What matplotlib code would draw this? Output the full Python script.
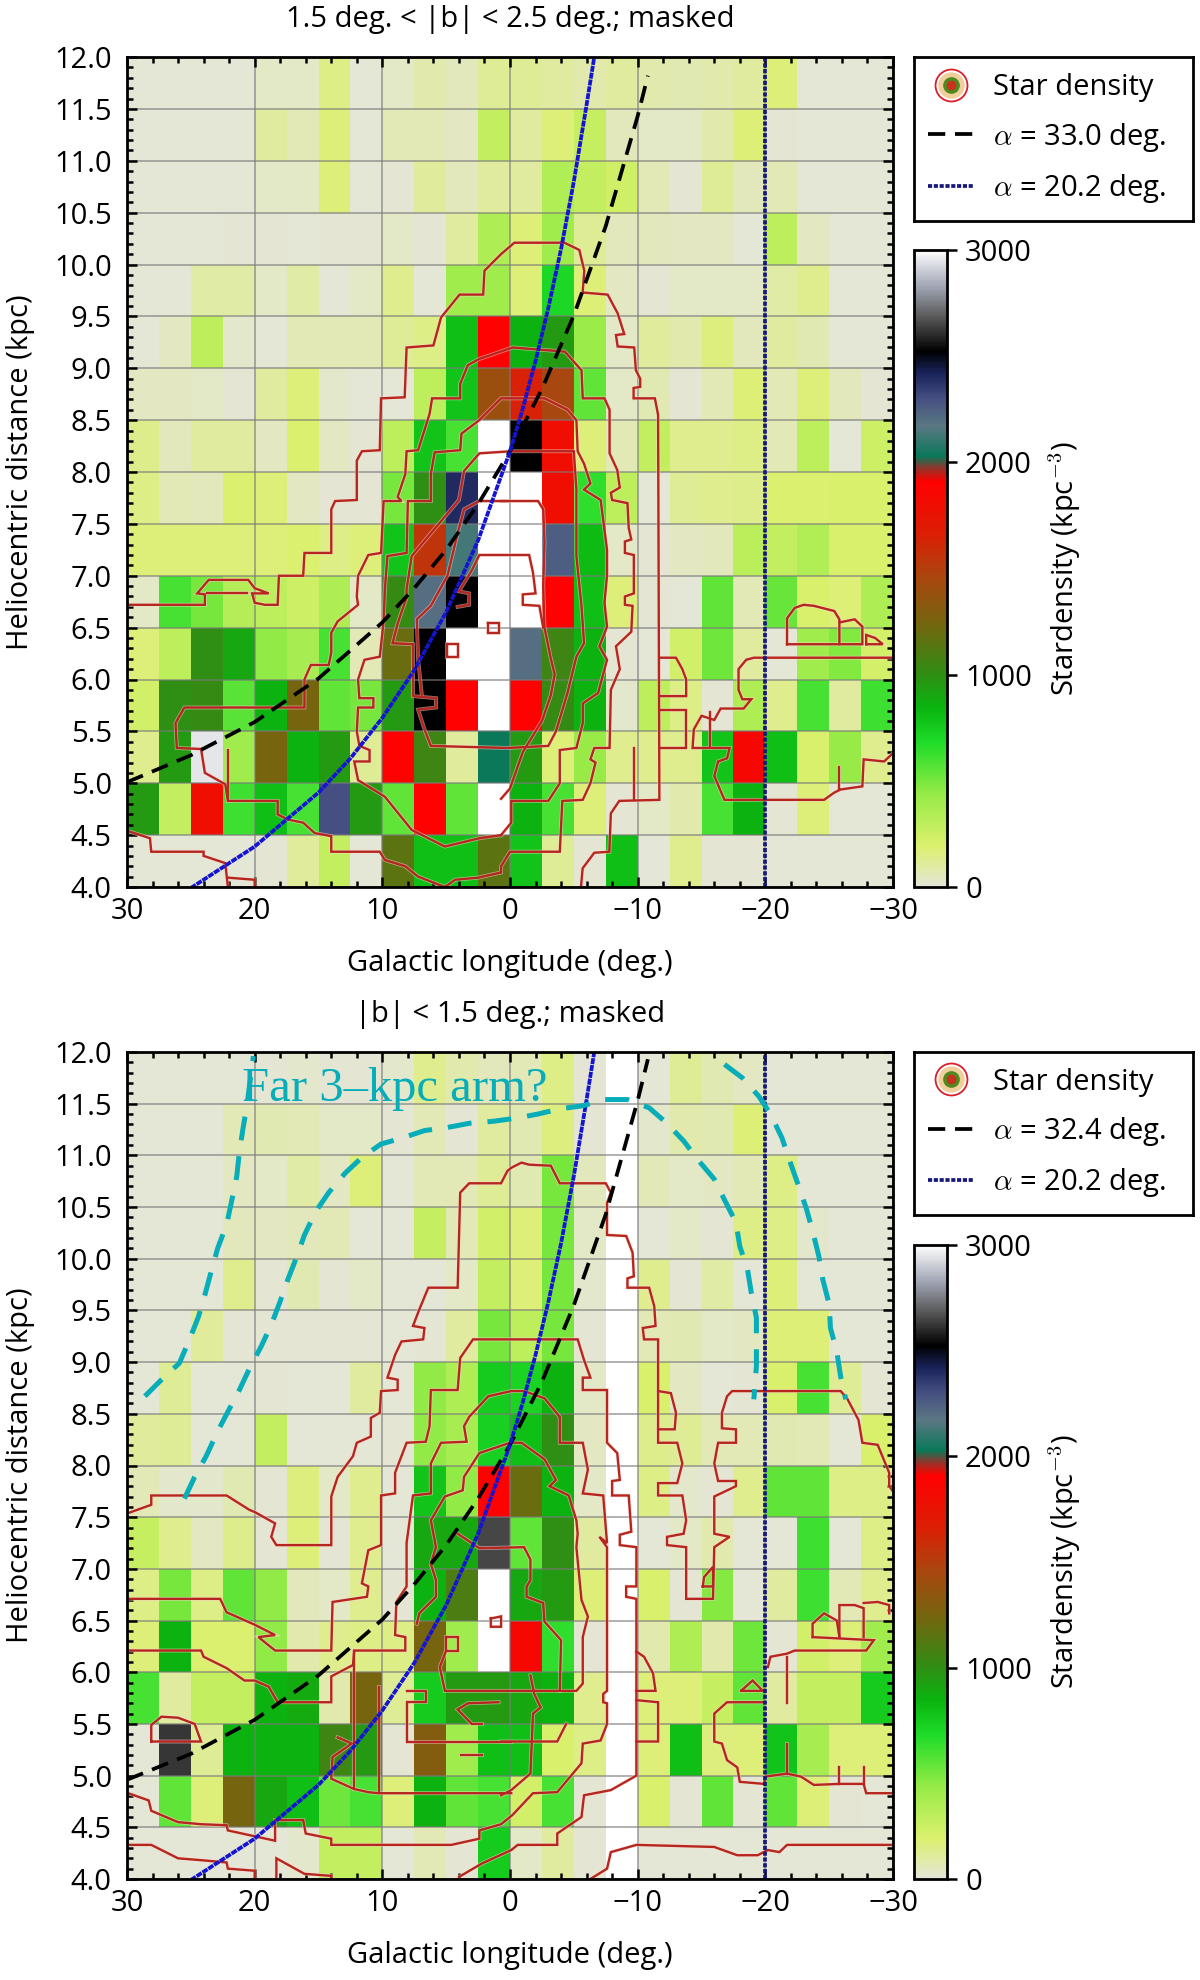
"""
Red clump star density maps towards the Galactic bar, two latitude ranges.
"""
import numpy as np
import matplotlib
matplotlib.use("Agg")
import matplotlib.pyplot as plt
from matplotlib.colors import LinearSegmentedColormap
from matplotlib.legend_handler import HandlerTuple
from matplotlib.lines import Line2D
from matplotlib.ticker import MultipleLocator, FuncFormatter

plt.rcParams["font.family"] = ["Open Sans", "DejaVu Sans"]
plt.rcParams["mathtext.fontset"] = "cm"

W, H = 1200, 1980

# --------- DATA ---------
LON_EDGES = np.arange(30, -30.1, -2.5)
DIST_EDGES = np.arange(4, 12.01, 0.5)

# rows run from 11.5-12 kpc down to 4-4.5 kpc, columns from l=30 to l=-30
P1_DENSITY = [
    [0, 0, 0, 0, 30, 30, 150, 0, 30, 80, 50, 120, 120, 100, 80, 100, 80, 70, 80, 100, 170, 0, 0, 0],
    [0, 0, 0, 0, 100, 60, 170, 0, 60, 60, 40, 280, 100, 170, 270, 50, 30, 30, 80, 180, 10, 0, 0, 0],
    [0, 0, 0, 0, 30, 30, 170, 0, 10, 110, 50, 100, 100, 340, 280, 240, 60, 10, 120, 50, 60, 0, 0, 0],
    [0, 0, 0, 10, 10, 0, 10, 10, 30, 10, 100, 350, 180, 400, 120, 50, 50, 40, 40, 0, 300, 40, 0, 0],
    [0, 0, 90, 90, 30, 90, 0, 30, 130, 0, 400, 400, 180, 700, 180, 40, 10, 30, 30, 30, 90, 130, 0, 0],
    [0, 40, 300, 20, 0, 60, 60, 60, 120, 150, 800, 1900, 850, 950, 420, 30, 110, 80, 160, 50, 100, 70, 0, 0],
    [40, 40, 30, 10, 100, 170, 20, 0, 0, 300, 780, 1400, 1650, 1450, 550, 30, 70, 10, 60, 180, 60, 170, 50, 10],
    [140, 50, 100, 100, 40, 190, 40, 10, 300, 780, 600, 3000, 2520, 1800, 170, 60, 280, 130, 130, 150, 60, 300, 0, 250],
    [150, 60, 50, 190, 170, 40, 10, 10, 500, 1000, 2400, 3000, 3000, 1800, 650, 300, 0, 120, 130, 140, 190, 190, 200, 200],
    [170, 170, 170, 170, 170, 190, 150, 170, 780, 1550, 2130, 3000, 3000, 2250, 820, 30, 10, 40, 50, 310, 280, 340, 200, 200],
    [30, 600, 500, 330, 300, 250, 350, 30, 1020, 2200, 2520, 3000, 3000, 1900, 800, 170, 10, 0, 550, 60, 530, 200, 180, 350],
    [170, 300, 1000, 900, 450, 380, 600, 60, 1200, 2520, 3000, 3000, 2200, 1050, 850, 10, 0, 230, 520, 100, 0, 400, 480, 220],
    [230, 1000, 1020, 560, 850, 1250, 550, 500, 950, 2520, 1900, 3000, 1900, 1020, 850, 20, 300, 150, 10, 350, 130, 600, 100, 620],
    [130, 950, 2950, 400, 1250, 850, 950, 120, 1900, 1050, 110, 2030, 950, 180, 430, 130, 130, 130, 780, 1850, 800, 200, 430, 130],
    [950, 280, 1800, 620, 800, 600, 2300, 950, 550, 1900, 550, 3000, 850, 600, 170, 10, 30, 80, 600, 850, 10, 170, 0, 0],
    [0, 0, 0, 0, 10, 110, 280, 0, 1150, 800, 800, 1150, 780, 120, 10, 800, 0, 130, 10, 10, 0, 0, 0, 0],
]
P2_DENSITY = [
    [0, 0, 0, 0, 10, 20, 10, 10, 20, 130, 80, 50, 60, 150, 10, 3000, 0, 120, 70, 40, 0, 0, 0, 0],
    [0, 0, 0, 60, 70, 60, 30, 30, 10, 60, 10, 100, 70, 160, 10, 3000, 20, 80, 70, 180, 0, 0, 0, 0],
    [0, 0, 0, 40, 30, 90, 40, 170, 0, 60, 60, 120, 70, 500, 50, 3000, 60, 30, 40, 60, 150, 0, 0, 0],
    [0, 0, 0, 50, 40, 50, 60, 0, 0, 270, 60, 230, 170, 500, 30, 3000, 0, 30, 10, 150, 150, 20, 0, 0],
    [0, 0, 0, 130, 10, 70, 10, 30, 0, 0, 30, 280, 170, 500, 20, 3000, 130, 10, 90, 0, 170, 0, 0, 0],
    [0, 0, 110, 10, 10, 10, 10, 10, 0, 10, 100, 500, 300, 500, 10, 3000, 60, 70, 30, 40, 180, 180, 0, 0],
    [0, 120, 0, 0, 10, 0, 0, 100, 0, 450, 350, 750, 720, 850, 30, 3000, 200, 40, 0, 10, 200, 600, 120, 10],
    [110, 120, 0, 0, 280, 0, 0, 0, 10, 450, 380, 730, 800, 1000, 40, 3000, 140, 120, 60, 60, 70, 60, 0, 200],
    [60, 20, 20, 70, 10, 160, 30, 130, 0, 780, 450, 1900, 1200, 850, 30, 3000, 150, 20, 10, 130, 550, 550, 150, 150],
    [270, 130, 40, 140, 10, 170, 10, 130, 0, 900, 900, 2650, 550, 1000, 100, 3000, 0, 30, 80, 0, 0, 620, 0, 150],
    [150, 500, 150, 550, 450, 50, 30, 130, 10, 850, 1100, 3000, 900, 950, 180, 3000, 200, 10, 470, 0, 100, 620, 60, 130],
    [170, 850, 190, 190, 450, 80, 130, 150, 150, 1250, 400, 3000, 1850, 650, 10, 3000, 80, 350, 80, 520, 10, 230, 170, 400],
    [600, 100, 280, 280, 850, 880, 80, 1250, 120, 750, 950, 950, 900, 850, 130, 3000, 170, 170, 270, 550, 100, 280, 280, 750],
    [0, 2620, 120, 850, 850, 850, 1050, 950, 10, 1300, 400, 800, 800, 200, 150, 3000, 170, 800, 160, 170, 780, 380, 170, 170],
    [0, 550, 170, 1250, 900, 800, 520, 600, 170, 850, 550, 600, 230, 600, 10, 3000, 200, 10, 550, 10, 550, 180, 10, 0],
    [0, 0, 0, 0, 0, 20, 280, 280, 0, 60, 10, 750, 30, 100, 10, 3000, 0, 0, 0, 0, 0, 0, 0, 0],
]

CBAR_VALUES = [0, 190, 435, 680, 845, 1010, 1215, 1460, 1665, 1910, 1970, 2030, 2170, 2300, 2420, 2525, 2690, 2830, 3000]
CBAR_COLORS = ["#e4e6d6", "#dcf06e", "#96eb46", "#1edc28", "#0ab40f", "#328c14", "#6e690f", "#aa460f",
               "#dc1e05", "#ff0000", "#963228", "#0a785a", "#5a7882", "#465082", "#19235a", "#000000",
               "#5a5a5a", "#a0a5b4", "#ffffff"]

# model bar lines
BLUE_LON = [25, 20, 15, 12.5, 10, 7.5, 5, 2.5, 0, -1, -2, -3, -4, -5, -6, -6.6]
BLUE_DIST = [3.99, 4.39, 4.91, 5.24, 5.63, 6.09, 6.65, 7.34, 8.2, 8.61, 9.07, 9.58, 10.15, 10.8, 11.54, 12.0]
BLUE_ASYMP_LON = [-20, -20]
BLUE_ASYMP_DIST = [4, 12]
P1_BLACK_LON = [30, 25, 20, 15, 10, 7.5, 5, 2.5, 0, -2.5, -5, -7.5, -10, -10.8]
P1_BLACK_DIST = [5.01, 5.27, 5.59, 6.01, 6.55, 6.88, 7.25, 7.69, 8.2, 8.8, 9.51, 10.37, 11.43, 11.82]
P2_BLACK_LON = [30, 25, 20, 15, 10, 7.5, 5, 2.5, 0, -2.5, -5, -7.5, -10, -10.8]
P2_BLACK_DIST = [4.96, 5.21, 5.54, 5.97, 6.51, 6.85, 7.23, 7.68, 8.2, 8.81, 9.55, 10.43, 11.53, 11.93]

# far 3-kpc arm sketch, lower panel only
ARM_OUTER_LEFT = [(28.6, 8.67), (27.3, 8.83), (25.9, 8.99), (25.1, 9.22), (24.4, 9.44), (23.9, 9.65), (23.4, 9.88),
                  (22.9, 10.1), (22.2, 10.33), (21.8, 10.56), (21.4, 10.8), (21.2, 11.03), (20.9, 11.27),
                  (20.6, 11.49), (20.1, 11.96)]
ARM_OUTER_RIGHT = [(-16.8, 11.88), (-18.2, 11.75), (-19.5, 11.57), (-20.4, 11.4), (-21.3, 11.17), (-21.9, 10.95),
                   (-22.5, 10.74), (-23.2, 10.49), (-23.7, 10.27), (-24.2, 10.02), (-24.5, 9.8), (-25, 9.56),
                   (-25.1, 9.33), (-25.6, 9.1), (-25.9, 8.86), (-26.3, 8.64)]
ARM_INNER = [(25.5, 7.68), (24.7, 7.89), (23.8, 8.09), (22.9, 8.33), (22.1, 8.52), (21.2, 8.73), (20.4, 8.94),
             (19.5, 9.15), (18.7, 9.36), (18, 9.59), (17.4, 9.8), (16.7, 10.02), (16.1, 10.23), (15.2, 10.46),
             (14.2, 10.64), (12.9, 10.83), (11.6, 10.98), (10.1, 11.11), (8.4, 11.17), (6.7, 11.24), (4.9, 11.27),
             (3.2, 11.31), (1.3, 11.33), (-0.5, 11.36), (-2.2, 11.4), (-3.9, 11.45), (-5.7, 11.48), (-7.4, 11.54),
             (-9.2, 11.54), (-10.9, 11.46), (-12.2, 11.32), (-13.6, 11.14), (-14.7, 10.96), (-16, 10.77),
             (-16.8, 10.57), (-17.7, 10.35), (-18, 10.12), (-18.6, 9.9), (-18.9, 9.67), (-19.3, 9.43), (-19.3, 9.2),
             (-19.3, 8.96), (-19.1, 8.64)]

# star density contours, traced as (lon, dist)
P1_OUTER = [(29.9, 6.72), (23.9, 6.72), (23.9, 6.82), (24.5, 6.83), (23.6, 6.96), (20.5, 6.96), (20, 6.88), (18.9, 6.83),
            (20.2, 6.83), (20, 6.74), (19.2, 6.72), (18.2, 6.72), (18.1, 7), (16.2, 7), (16.1, 7.22), (14, 7.22),
            (14, 7.64), (13.7, 7.72), (12, 7.73), (12, 8.11), (11.6, 8.2), (10.2, 8.21), (10.1, 8.71), (8.25, 8.72),
            (8.1, 9.2), (6, 9.22), (5.4, 9.49), (3.95, 9.71), (2.1, 9.71), (2, 9.94), (0.7, 10.1), (-0.34, 10.21),
            (-4.26, 10.21), (-5.43, 10.14), (-5.82, 9.94), (-5.69, 9.73), (-7.65, 9.71), (-8.43, 9.53), (-8.95, 9.33),
            (-8.3, 9.32), (-8.43, 9.21), (-9.73, 9.2), (-9.86, 8.98), (-10.2, 8.9), (-10.2, 8.82), (-9.68, 8.81),
            (-9.68, 8.71), (-11.35, 8.71), (-11.6, 8.55), (-11.7, 4.84), (-8.56, 4.83), (-7.9, 4.71), (-7.78, 4.34),
            (-6.6, 4.33), (-5.69, 4.18), (-5.56, 4.0)]
P1_SECOND = [(5.1, 4), (4.3, 4.07), (2.5, 4.09), (0.7, 4.14), (0.7, 4.2), (0, 4.34), (-3.9, 4.34), (-4.1, 4.83), (-5.7, 4.84),
             (-6.3, 5), (-6.7, 5.2), (-6.3, 5.23), (-6.6, 5.34), (-7.8, 5.34), (-7.9, 5.9), (-8.6, 6.1), (-8.3, 6.32),
             (-9.5, 6.46), (-9.6, 6.71), (-9, 6.72), (-9, 6.8), (-9.7, 6.83), (-9.7, 7.2), (-9, 7.22), (-9, 7.33),
             (-9.5, 7.35), (-9.3, 7.46), (-9.2, 7.7), (-8, 7.73), (-7.9, 7.8), (-8.6, 7.85), (-8.4, 8.02), (-7.8, 8.18),
             (-7.8, 8.6), (-7.4, 8.71), (-5.7, 8.71), (-5.6, 8.98), (-4.3, 9.16), (-0.2, 9.2), (2.4, 9.09), (3.3, 9.03),
             (3.9, 8.85), (3.9, 8.71), (6.1, 8.71), (6.3, 8.56), (7.2, 8.21), (8.1, 8.2), (8.2, 7.98), (8.8, 7.76),
             (8.5, 7.72), (9.9, 7.72), (10.1, 7.22), (11.1, 7.2), (11.9, 7), (12, 6.8), (11.9, 6.72), (13.5, 6.56),
             (14, 6.45), (14, 6.26), (14.2, 6.14), (15.6, 6.14), (16.1, 6), (16.1, 5.73), (25.5, 5.73), (26.2, 5.58),
             (26.1, 5.34), (24.2, 5.33), (23.9, 5.1), (22.3, 4.99), (22.1, 4.83), (18.2, 4.83), (18.2, 4.7), (17.4, 4.65),
             (16.2, 4.62), (15.3, 4.52), (14, 4.49), (14, 4.34), (10.2, 4.34), (9.8, 4.26), (8.2, 4.2), (7.2, 4.1), (5.1, 4)]
P1_THIRD = [(0.7, 4.5), (-0.1, 4.62), (-0.1, 4.83), (-3, 4.83), (-3.9, 5), (-3.9, 5.32), (-5.2, 5.34), (-5.7, 5.58), (-5.7, 5.77),
            (-6.9, 5.87), (-7.6, 6.19), (-7, 6.32), (-7.6, 6.51), (-7.4, 6.74), (-7.6, 7), (-7.6, 7.25), (-7.1, 7.73),
            (-5.8, 7.83), (-6.3, 7.89), (-5.8, 8.08), (-5.3, 8.2), (-5.2, 8.5), (-4.5, 8.6), (-2.7, 8.71), (0.7, 8.71),
            (2.4, 8.5), (3.8, 8.37), (3.9, 8.21), (5.9, 8.19), (6.2, 7.98), (6.2, 7.72), (8, 7.72), (8.1, 7.22), (9.6, 7.19),
            (9.8, 6.87), (9.9, 6.56), (10.2, 6.22), (11.4, 6.19), (11.9, 6), (11.8, 5.82), (10.7, 5.82), (10.7, 5.73),
            (11.9, 5.73), (12, 5.5), (11.8, 5.36), (11, 5.32), (11, 5.21), (12.2, 5.21), (11.9, 5.03), (9.8, 4.87),
            (7.7, 4.55), (5.1, 4.39), (2.4, 4.47), (0.7, 4.5)]
P1_FOURTH = [(-0.1, 8.2), (2.4, 8.18), (3.6, 8.01), (4, 7.73), (7.7, 7.19), (8.1, 6.87), (8.1, 6.79), (8.8, 6.54), (9.2, 6.35),
             (7.6, 6.34), (7.6, 5.84), (5.8, 5.82), (5.8, 5.73), (7.2, 5.71), (6.7, 5.52), (6.2, 5.36), (0.2, 5.34),
             (-3, 5.36), (-3.6, 5.5), (-4.5, 5.87), (-5.2, 6.22), (-5.8, 6.35), (-5.6, 6.71), (-5.2, 7.19), (-5.2, 7.83),
             (-5, 8.2), (-0.1, 8.2)]
P1_FIFTH = [(0.7, 7.72), (-2.2, 7.72), (-2.6, 7.64), (-2.7, 7.32), (-2.6, 6.9), (-2.7, 6.5), (-3.2, 6.2), (-3.5, 6.05),
            (-3.2, 5.85), (-2.5, 5.6), (-1, 5.3), (0, 4.95), (0.7, 4.85)]
P1_FIFTH_LEFT = [(0.2, 7.72), (2.4, 7.72), (3.6, 7.64), (4.1, 7.41), (4.9, 7), (6.2, 6.71), (7.3, 6.58), (7.2, 6.2), (6.9, 5.84)]
P1_INNER = [(4.1, 6.7), (3.2, 6.72), (3.2, 6.83), (4, 6.85), (3, 7.05), (2.4, 7.2), (-1.5, 7.2), (-1.8, 7.03), (-2, 6.83), (-1, 6.82),
            (-1, 6.72), (-2.3, 6.71), (-2.6, 6.5)]
P1_SQUARE = [(1.7, 6.54), (0.9, 6.54), (0.9, 6.45), (1.7, 6.45), (1.7, 6.54)]
P1_SMALL = [(4.9, 6.34), (4.1, 6.34), (4.1, 6.22), (4.9, 6.22), (4.9, 6.34)]
P1_BAR_A = [(23.7, 6.83), (20.6, 6.83)]
P1_BAR_B = [(22.1, 5.32), (22.1, 4.83)]
P1_BOTTOM_A = [(29.95, 4.54), (28.2, 4.47), (28.1, 4.34), (24, 4.34), (24, 4.3), (22.3, 4.23), (22.1, 4)]
P1_BOTTOM_B = [(22.1, 4.09), (20, 4.07), (20, 4)]
P1_BLOB_A = [(-21.7, 6.34), (-21.7, 6.59), (-22.3, 6.69), (-23, 6.72), (-23.8, 6.71), (-25.4, 6.66), (-25.8, 6.58), (-25.8, 6.34), (-21.7, 6.34)]
P1_BLOB_B = [(-25.8, 6.55), (-27, 6.58), (-27.6, 6.51), (-27.6, 6.34), (-25.8, 6.34)]
P1_BLOB_C = [(-27.9, 6.34), (-27.9, 6.43), (-28.6, 6.4), (-29.2, 6.34), (-27.9, 6.34)]
P1_RIGHT = [(-30, 6.21), (-20.2, 6.21), (-19.1, 6.21), (-18.5, 6.19), (-17.9, 6.1), (-17.9, 5.9), (-18.2, 5.81), (-18.9, 5.81), (-18.3, 5.72),
            (-16.5, 5.72), (-16, 5.61), (-15, 5.65), (-14.4, 5.52), (-14.3, 5.34), (-17.2, 5.34), (-17, 5.24), (-16.3, 5.21), (-16, 5.07),
            (-16.8, 4.84), (-24.6, 4.84), (-25.4, 4.91), (-25.9, 4.94), (-27.6, 4.97), (-27.7, 5.23), (-29.3, 5.21), (-30, 5.29)]
P1_TICK_A = [(-15.7, 5.69), (-15.7, 5.34)]
P1_TICK_B = [(-25.8, 5.16), (-25.8, 4.94)]
P1_TICK_C = [(-9.7, 5.34), (-9.7, 4.84)]
P1_RECT_A = [(-11.8, 5.84), (-13.8, 5.84), (-13.8, 6), (-13.5, 6.1), (-13, 6.21), (-11.8, 6.21)]
P1_RECT_B = [(-11.8, 5.71), (-13.8, 5.71), (-13.8, 5.34), (-11.8, 5.34)]
P1_CONTOURS = [P1_OUTER, P1_SECOND, P1_THIRD, P1_FOURTH, P1_FIFTH, P1_FIFTH_LEFT, P1_INNER, P1_SQUARE, P1_SMALL, P1_BAR_A,
               P1_BAR_B, P1_BOTTOM_A, P1_BOTTOM_B, P1_BLOB_A, P1_BLOB_B, P1_BLOB_C, P1_RIGHT, P1_TICK_A, P1_TICK_B,
               P1_TICK_C, P1_RECT_A, P1_RECT_B]

P2_OUTER = [(29.9, 7.54), (28.1, 7.62), (28.1, 7.71), (22.2, 7.71), (20.4, 7.57), (20, 7.55), (18.4, 7.44), (18.7, 7.31), (18.3, 7.23), (14, 7.23),
            (14, 7.7), (13.5, 7.89), (12.3, 8.09), (12, 8.22), (10.9, 8.28), (10.9, 8.46), (10.2, 8.51), (10.1, 8.72), (8.8, 8.73), (8.8, 8.83),
            (9.6, 8.85), (9, 9.07), (8.5, 9.2), (6.8, 9.22), (6.7, 9.33), (7.6, 9.35), (7.1, 9.51), (6.4, 9.72), (4.1, 9.72), (3.9, 10.64),
            (3.2, 10.73), (0.7, 10.73), (0.2, 10.85), (-0.1, 10.88), (-0.9, 10.93), (-1.5, 10.91), (-3.2, 10.9), (-3.9, 10.73), (-7.5, 10.73),
            (-7.9, 10.64), (-7.6, 10.54), (-7.6, 10.23), (-9.1, 10.22), (-9.6, 10.06), (-9.7, 9.83), (-9.2, 9.81), (-9.2, 9.72), (-10.9, 9.72),
            (-11.3, 9.54), (-11.4, 9.35), (-10.4, 9.33), (-10.5, 9.22), (-11.6, 9.22), (-11.6, 8.22), (-13.1, 8.22), (-13.5, 8.02), (-13.1, 7.83),
            (-11.6, 7.83), (-11.6, 7.71), (-13.5, 7.71), (-13.8, 7.47), (-13.6, 7.34), (-12.3, 7.31), (-12.3, 7.23), (-13.8, 7.21), (-13.8, 6.71),
            (-15.9, 6.71), (-16, 7.21), (-17.2, 7.31), (-16, 7.34), (-16, 7.7), (-17.7, 7.8), (-17.7, 7.85), (-16.3, 7.85), (-16, 8.02), (-16.3, 8.22),
            (-17.7, 8.22), (-17.7, 8.35), (-16.6, 8.36), (-16.6, 8.51), (-17, 8.67), (-17.4, 8.72), (-25.9, 8.72), (-26.4, 8.65), (-27.3, 8.44),
            (-27.6, 8.22), (-28.8, 8.2), (-29.7, 7.93), (-29.7, 7.8), (-30, 7.75)]
P2_BLOB_TOP = [(-11.6, 8.72), (-12.6, 8.7), (-13, 8.51), (-12.9, 8.35), (-11.6, 8.35)]
P2_SECOND = [(29.9, 6.71), (22.7, 6.71), (22.2, 6.58), (20, 6.46), (18.4, 6.36), (19.7, 6.34), (18.4, 6.21), (14, 6.21), (13.9, 6.68), (11.2, 6.73),
             (11.1, 6.83), (11.6, 6.86), (11.1, 7.18), (10.1, 7.23), (10.1, 7.71), (9, 7.73), (9, 7.93), (8.1, 8.22), (6.6, 8.23), (6.3, 8.38), (6.2, 8.73),
             (4.1, 8.73), (3.9, 9.04), (2.9, 9.22), (-5.3, 9.22), (-5.8, 9.02), (-6.3, 8.85), (-5.7, 8.85), (-5.7, 8.73), (-7.6, 8.73), (-7.6, 8.22),
             (-8.4, 8.12), (-8.6, 7.86), (-8, 7.85), (-8, 7.71), (-9.3, 7.71), (-9.5, 7.36), (-8.6, 7.33), (-8.6, 7.23), (-9.9, 7.21), (-9.9, 6.83),
             (-9.1, 6.83), (-9.1, 6.73), (-9.9, 6.71), (-9.9, 5), (-7.9, 4.86), (-5.8, 4.81), (-5.6, 4.6), (-3.7, 4.44), (-3.7, 4.33), (-0.6, 4.33),
             (-0.1, 4.28), (2.2, 4.15), (4, 4.02)]
P2_THIRD = [(29.9, 6.21), (24.2, 6.21), (24, 6.15), (22.2, 6.04), (20.8, 5.92), (20, 5.92), (18.9, 5.86), (18.2, 5.71), (14, 5.71), (14, 5.96), (12.3, 6.07),
            (12.2, 6.21), (8.2, 6.21), (8.2, 6.34), (9, 6.36), (8.9, 6.68), (8.1, 6.83), (8.1, 7.25), (7.6, 7.71), (6.2, 7.73), (6.2, 8.02), (5.4, 8.22),
            (3.4, 8.23), (3.6, 8.38), (3.2, 8.47), (1.7, 8.67), (-0.1, 8.72), (-1.1, 8.72), (-2.7, 8.65), (-3.9, 8.47), (-3.9, 8.22), (-5.7, 8.22), (-6.1, 7.96),
            (-5.7, 7.73), (-7.3, 7.71), (-7.6, 7.25), (-7, 7.31), (-7.6, 7.21), (-7.6, 5.82), (-7.3, 5.79), (-7.3, 5.71), (-7.6, 5.7), (-7.6, 5.5), (-7.1, 5.34),
            (-5.7, 5.31), (-5.6, 5.12), (-3.7, 4.84), (-1.8, 4.83), (-0.2, 4.62), (0.7, 4.53), (2.4, 4.47), (2.4, 4.39), (4.6, 4.33), (14, 4.33), (14, 4.39),
            (16, 4.44), (16.2, 4.57), (18.4, 4.57), (18.4, 4.37), (22.1, 4.47), (22.2, 4.52), (24.2, 4.53), (26, 4.55), (28.1, 4.66), (28.3, 4.76), (29.9, 4.83)]
P2_FOURTH = [(-0.1, 4.83), (10.3, 4.83), (11.1, 4.84), (12.2, 4.87), (14, 4.97), (13.9, 5.18), (12.4, 5.31), (13.5, 5.37)]
P2_VERT_A = [(12.2, 4.87), (12.2, 6.21)]
P2_VERT_B = [(10.3, 5.86), (10.3, 4.83)]
P2_RECT_C = [(-0.1, 5.33), (8.1, 5.33), (8.1, 5.71), (6.6, 5.71), (6.6, 5.82), (8.1, 5.82)]
P2_FIFTH = [(7.3, 6.47), (7.1, 6.57), (5.8, 6.73), (5.8, 6.89), (6.2, 7.05), (5.8, 7.21), (6.2, 7.47), (5.1, 7.7), (3.7, 7.76), (3.6, 7.89), (2.4, 8.12), (0, 8.22),
            (-0.9, 8.22), (-2.7, 8.06), (-3.6, 7.86), (-3.1, 7.8), (-4.6, 7.71), (-5.2, 7.47), (-5.3, 7.34), (-5.2, 7.21), (-5.6, 6.7), (-6.1, 6.54), (-5.7, 6.34),
            (-5.7, 5.89), (-5.2, 5.82), (5.1, 5.82), (5.5, 6.05), (5, 6.21)]
P2_RECT_D = [(5, 6.34), (4.1, 6.34), (4.1, 6.21), (5, 6.21), (5, 6.34)]
P2_SIXTH = [(4.1, 7.34), (2.4, 7.2), (-1.1, 7.21), (-1.6, 7.09), (-1.6, 6.89), (-1.3, 6.83), (-1.3, 6.73), (-2.6, 6.67), (-2.7, 6.49), (-4, 6.31), (-3.9, 5.82)]
P2_SEVENTH = [(-1.6, 5.97), (-1.9, 5.79), (-2.4, 5.66), (-1.8, 5.6), (-1.6, 5.02), (-0.1, 4.86), (0.7, 4.81)]
P2_EIGHTH = [(0.7, 5.33), (-3.7, 5.33), (-4.4, 5.5)]
P2_DASH = [(3.8, 5.2), (2.2, 5.2)]
P2_CURL = [(0.9, 5.71), (3.3, 5.7), (4.1, 5.64), (3, 5.5), (2.2, 5.5)]
P2_LEFT_BLOB = [(28.1, 5.33), (28.1, 5.49), (27.3, 5.57), (26, 5.56), (24.7, 5.5), (24.2, 5.33), (28.1, 5.33)]
P2_BLOB_A = [(-23.7, 6.34), (-23.7, 6.47), (-24.6, 6.57), (-25.6, 6.5), (-25.8, 6.34)]
P2_BLOB_B = [(-25.8, 6.34), (-25.8, 6.65), (-27, 6.65), (-27.7, 6.62), (-27.7, 6.34)]
P2_BLOB_LINE = [(-23.7, 6.34), (-28.5, 6.31), (-27.9, 6.21), (-22.3, 6.21), (-21.7, 6.18), (-20.4, 6.15), (-20.2, 6.05), (-19.9, 6.05)]
P2_EDGE_BLOB = [(-27.7, 6.67), (-28.8, 6.68), (-29.7, 6.65), (-29.7, 6.57)]
P2_TRI = [(-18.1, 5.82), (-19.8, 5.82), (-19, 5.92), (-18.1, 5.82)]
P2_RIGHT = [(-19.9, 5.71), (-17, 5.71), (-16, 5.6), (-16, 5.33), (-16.6, 5.31), (-17, 5.15), (-17.8, 5.08), (-18, 4.94), (-19.9, 4.92), (-20, 4.99), (-21.7, 5.02),
            (-22.8, 4.99), (-23.8, 4.91), (-25.8, 4.92), (-27.7, 4.92), (-27.9, 4.83), (-30, 4.83)]
P2_VERT_C = [(-21.7, 5.31), (-21.7, 5.02)]
P2_VERT_D = [(-21.7, 6.15), (-21.7, 5.7)]
P2_VERT_E = [(-25.8, 5.08), (-25.8, 4.92)]
P2_VERT_F = [(-27.7, 5.08), (-27.7, 4.92)]
P2_BOTTOM = [(-30, 4.33), (-21.7, 4.33), (-21.1, 4.26), (-20.2, 4.28), (-19.4, 4.23), (-17.8, 4.23), (-16, 4.31), (-9.9, 4.33), (-7.9, 4.26), (-7.6, 4.1), (-6.3, 4)]
P2_RECT_A = [(-9.9, 5.73), (-11.6, 5.71), (-11.6, 5.33), (-9.9, 5.33)]
P2_RECT_B = [(-9.9, 5.82), (-11.4, 5.82), (-11.2, 5.99), (-10.5, 6.15), (-9.9, 6.2)]
P2_NOTCH = [(-15.1, 6.83), (-15.9, 6.83), (-15.9, 7.02), (-15.2, 6.92), (-15.1, 6.83)]
P2_BOTTOM_L = [(29.9, 4.33), (28.1, 4.33), (26, 4.2), (24, 4.18), (22.2, 4.16), (22.1, 4.1), (20, 4.08), (20, 4)]
P2_BOTTOM_M = [(18.3, 4), (18.3, 4.2), (16.1, 4.05), (14, 4.03), (14, 4)]
P2_SQUARE = [(1.5, 6.52), (0.7, 6.54), (0.7, 6.44), (1.5, 6.44), (1.5, 6.52)]
P2_CONTOURS = [P2_OUTER, P2_BLOB_TOP, P2_SECOND, P2_THIRD, P2_FOURTH, P2_VERT_A, P2_VERT_B, P2_RECT_C, P2_FIFTH, P2_RECT_D, P2_SIXTH,
               P2_SEVENTH, P2_EIGHTH, P2_DASH, P2_CURL, P2_LEFT_BLOB, P2_BLOB_A, P2_BLOB_B, P2_BLOB_LINE, P2_EDGE_BLOB, P2_TRI, P2_RIGHT,
               P2_VERT_C, P2_VERT_D, P2_VERT_E, P2_VERT_F, P2_BOTTOM, P2_RECT_A, P2_RECT_B, P2_NOTCH, P2_BOTTOM_L, P2_BOTTOM_M, P2_SQUARE]

TITLE_TOP = "1.5 deg. < |b| < 2.5 deg.; masked"
TITLE_BOTTOM = "|b| < 1.5 deg.; masked"
ARM_LABEL = "Far 3\u2013kpc arm?"

# --------- STYLE ---------
TICK_FS = 21
LABEL_FS = 21
RED = "#b5261e"
TEAL = "#07adb8"
cmap = LinearSegmentedColormap.from_list(
    "stardens", [(v / 3000, c) for v, c in zip(CBAR_VALUES, CBAR_COLORS)], N=512)


def rect(left, top, right, bottom):
    """Axes rectangle from pixel edges, y measured from the top."""
    return [left / W, 1 - bottom / H, (right - left) / W, (bottom - top) / H]


def lon_label(v, _):
    v = int(round(v))
    return f"\u2212{-v}" if v < 0 else f"{v}"


def draw_panel(ax, density, contours, black_lon, black_dist, title):
    mesh = ax.pcolormesh(LON_EDGES, DIST_EDGES, np.array(density, float)[::-1], cmap=cmap, vmin=0, vmax=3000, zorder=1)
    ax.set_xlim(30, -30)
    ax.set_ylim(4, 12)
    ax.xaxis.set_major_locator(MultipleLocator(10))
    ax.xaxis.set_minor_locator(MultipleLocator(2))
    ax.yaxis.set_major_locator(MultipleLocator(0.5))
    ax.yaxis.set_minor_locator(MultipleLocator(0.1))
    ax.xaxis.set_major_formatter(FuncFormatter(lon_label))
    ax.yaxis.set_major_formatter(FuncFormatter(lambda v, _: f"{v:.1f}"))
    ax.tick_params(which="both", direction="in", top=True, right=True, color="black", labelsize=TICK_FS)
    ax.tick_params(axis="x", which="major", length=7, width=1.8, pad=7)
    ax.tick_params(axis="y", which="major", length=7, width=1.8, pad=11)
    ax.tick_params(which="minor", length=4, width=1.8)
    ax.set_axisbelow(False)
    ax.grid(True, which="major", color="#7a7a7a", linewidth=1.1, alpha=0.75)
    for sp in ax.spines.values():
        sp.set_linewidth(2)
        sp.set_zorder(8)
    for path in contours:
        xy = np.array(path, float)
        ax.plot(xy[:, 0], xy[:, 1], color="#ffd9d2", linewidth=2.8, alpha=0.55, zorder=3, solid_joinstyle="miter")
        ax.plot(xy[:, 0], xy[:, 1], color=RED, linewidth=1.7, zorder=3.1, solid_joinstyle="miter")
    ax.plot(black_lon, black_dist, color="black", linewidth=2.7, dashes=(4.6, 2.6), zorder=5)
    ax.plot(BLUE_LON, BLUE_DIST, color="#1414d2", linewidth=2.7, dashes=(1.6, 0.25), zorder=5)
    ax.plot(BLUE_ASYMP_LON, BLUE_ASYMP_DIST, color="#16187a", linewidth=2.7, dashes=(1.1, 0.45), zorder=5)
    ax.set_xlabel("Galactic longitude (deg.)", fontsize=LABEL_FS, va="center")
    ax.xaxis.set_label_coords(0.5, -77 / 830)
    ax.set_ylabel("Heliocentric distance (kpc)", fontsize=LABEL_FS, va="center")
    ax.yaxis.set_label_coords((21 - 127) / 766, 0.5)
    ax.set_title(title, fontsize=LABEL_FS, y=1 + 29 / 830, va="center")
    return mesh


def draw_legend(fig, box, black_text):
    lax = fig.add_axes(rect(*box))
    lax.set_xticks([])
    lax.set_yticks([])
    for sp in lax.spines.values():
        sp.set_linewidth(2)
    star = (Line2D([], [], marker="o", ms=23, mfc="none", mec="#d9202a", mew=1.3, ls="none"),
            Line2D([], [], marker="o", ms=18, mfc="#f1cf9c", mec="#f1cf9c", ls="none"),
            Line2D([], [], marker="o", ms=11, mfc="#4f8a1e", mec="#4f8a1e", ls="none"),
            Line2D([], [], marker="o", ms=6, mfc="#c8321e", mec="#c8321e", ls="none"))
    black_h = Line2D([], [], color="black", linewidth=2.7, dashes=(4.6, 2.6))
    blue_h = Line2D([], [], color="#16187a", linewidth=2.7, dashes=(1.1, 0.45))
    lax.legend([star, black_h, blue_h],
               ["Star density", black_text, "$\\alpha$ = 20.2 deg."],
               handler_map={tuple: HandlerTuple(ndivide=1, pad=0)},
               loc="center left", bbox_to_anchor=(14 / 279, 0.5), frameon=False, fontsize=LABEL_FS,
               handlelength=1.55, handletextpad=0.69, labelspacing=0.63, borderaxespad=0, borderpad=0)


def draw_cbar(fig, mesh, box):
    cax = fig.add_axes(rect(*box))
    cb = fig.colorbar(mesh, cax=cax)
    cb.set_ticks([0, 1000, 2000, 3000])
    cb.ax.tick_params(labelsize=TICK_FS, length=7, width=1.8, direction="out", pad=6)
    cb.outline.set_linewidth(2)
    cb.set_label("Stardensity (kpc$^{-3}$)", fontsize=LABEL_FS, va="center")
    cb.ax.yaxis.set_label_coords((1065 - box[0]) / (box[2] - box[0]), 0.5)


fig = plt.figure(figsize=(W / 100, H / 100), dpi=100, facecolor="white")

ax1 = fig.add_axes(rect(127, 57, 893, 887))
mesh1 = draw_panel(ax1, P1_DENSITY, P1_CONTOURS, P1_BLACK_LON, P1_BLACK_DIST, TITLE_TOP)
draw_legend(fig, (914, 57, 1193, 221), "$\\alpha$ = 33.0 deg.")
draw_cbar(fig, mesh1, (914, 250, 947, 887))

ax2 = fig.add_axes(rect(127, 1052, 893, 1879))
mesh2 = draw_panel(ax2, P2_DENSITY, P2_CONTOURS, P2_BLACK_LON, P2_BLACK_DIST, TITLE_BOTTOM)
for path in (ARM_OUTER_LEFT, ARM_OUTER_RIGHT, ARM_INNER):
    xy = np.array(path)
    ax2.plot(xy[:, 0], xy[:, 1], color=TEAL, linewidth=3.6, dashes=(4.8, 3.2), zorder=6)
ax2.text(21, 11.53, ARM_LABEL, color=TEAL, fontsize=35, family="Liberation Serif", ha="left", va="baseline", zorder=7)
draw_legend(fig, (914, 1052, 1193, 1215), "$\\alpha$ = 32.4 deg.")
draw_cbar(fig, mesh2, (914, 1245, 947, 1879))

fig.savefig("out.png", dpi=100)
